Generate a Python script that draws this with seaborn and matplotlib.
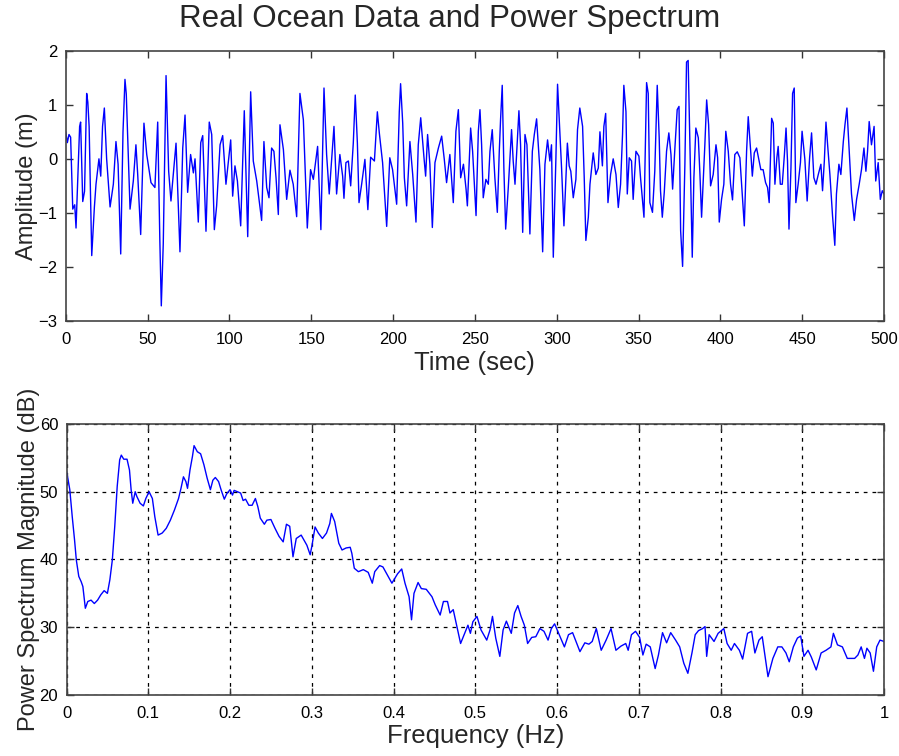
import numpy as np
import pandas as pd
import matplotlib
matplotlib.use("Agg")
import matplotlib.pyplot as plt
from matplotlib import font_manager
import seaborn as sns

# ---- Top panel: ocean wave record (time in s, amplitude in m) ----
time_s = [0, 1, 2, 3, 4.3, 5.5, 6.3, 7.7, 8.5, 9.1, 10.4, 11.5, 12.8, 13.5, 14.3, 15.9, 17.5, 18.5,
          20.3, 21.4, 22.5, 23.6, 25, 27.1, 29.1, 30.7, 32, 33.6, 35, 36.2, 37, 38, 39.3, 41.3, 42.9,
          44, 45.8, 47.8, 49.5, 52.1, 54.5, 56.2, 57.5, 58.4, 59.6, 61.3, 62.9, 64.3, 65.7, 67.4, 69.8,
          71.5, 72.9, 74.5, 76.3, 78.0, 79.0, 81.0, 82.5, 83.7,
          85.7, 87.7, 89.2, 90.8, 92.2, 94.3, 95.9, 97.9, 100.8, 102.0, 103.4, 104.9, 106.9, 109.1,
          111.2, 113.0, 114.6, 116.7, 119.7, 121.1, 122.8, 124.2, 125.8, 127.2, 128.5, 129.9, 130.9,
          133.0, 135.0, 137.0, 139.0, 141.1, 143.1, 145.2, 147.6, 149.6, 151.3, 153.9, 155.9, 157.8,
          159.4, 161.0, 163.9, 165.5, 167.5,
          169.2, 170.0, 171.2, 172.7, 174.1, 175.7, 176.9, 178.2, 179.2, 180.8, 182.8, 184.6, 186.3,
          188.6, 190.4, 191.6, 193.6, 196.1, 198.0, 199.7, 202.2, 203.8, 204.6, 205.9, 206.9, 208.3,
          210.3, 212.0, 214.0, 215.4, 216.9, 218.9, 219.9, 221.1, 222.5, 224.0, 225.6, 227.7, 229.7,
          231.3, 232.7, 234.7, 236.8, 238.4, 239.9, 241.3, 243.0, 244.6, 245.4, 247.4, 248.6, 250.7,
          252.1, 253.1,
          254.1, 255.1, 256.7, 258.2, 259.2, 260.6, 262.2, 263.7, 264.9, 265.7, 266.7, 267.7, 268.8,
          270.4, 272.4, 273.4, 274.5, 275.9, 276.9, 277.9, 279.2, 280.6, 281.8, 283.6, 285.1, 286.3,
          287.7, 289.7, 291.4, 292.8, 294.4, 295.8, 296.8, 297.9, 299.5, 300.5, 301.9, 303.0, 304.4,
          306.5, 307.6, 308.6, 310.1, 311.7, 312.7, 314.1, 315.8, 316.8, 317.8, 319.3, 320.3, 322.3,
          323.9, 325.4, 326.4, 327.9, 328.8, 329.9, 331.3, 332.9, 334.5, 336.2, 337.6, 339.0, 340.2,
          341.0,
          342.3, 343.1, 344.3, 345.7, 346.7, 348.4, 350.2, 351.2, 353.3, 354.9, 355.9, 356.9, 358.5,
          359.9, 361.4, 362.6, 363.4, 364.5, 365.7, 367.1, 368.5, 369.8, 370.8, 372.2, 373.6, 374.7,
          375.7, 376.9, 378.3, 379.3, 380.3, 381.4, 382.8, 383.8, 385.0, 386.5, 387.5, 388.5, 390.5,
          391.6, 392.8, 394.0, 395.6, 397.3, 398.3, 399.3, 400.7, 402.1, 403.3, 404.8, 406.2, 407.4,
          408.8, 410.3, 411.9, 413.1, 414.6, 416.0, 417.0, 418.5, 419.5, 420.7, 422.1,
          424.7, 426.1, 427.6, 428.8, 429.8, 431.3, 432.3, 433.3, 434.5, 435.3, 436.6, 437.8, 439.1,
          440.1, 441.0, 441.9, 443.1, 444.1, 445.1, 446.1, 447.5, 448.9, 449.9, 451.6, 453.0, 454.5,
          455.7, 457.1, 458.4, 459.8, 461.4, 462.4, 463.5, 464.5, 465.5, 466.9, 468.5, 469.9, 470.9,
          472.4, 473.6, 475.1, 476.1, 477.3, 478.5, 480.1, 481.8, 483.2, 484.8, 486.2, 487.7, 488.9,
          489.9, 490.9, 492.3, 493.9, 494.9, 496.4, 497.7, 498.9, 500]
amplitude_m = [0.5, 0.3, 0.45, 0.4, -0.93, -0.85, -1.28, -0.10, 0.6, 0.68, -0.79, -0.6, 1.21, 1.05, 0.6,
               -1.79, -0.9, -0.47, 0.0, -0.32, 0.6, 0.94, 0.0, -0.89, -0.47, 0.32, -0.1, -1.76, 0.5,
               1.47, 1.2, 0.3, -0.93, -0.41, 0.26, -0.3, -1.40, 0.66, 0.08, -0.44, -0.53, 0.68, -1.5,
               -2.72, -1.57, 1.54, -0.23, -0.78, -0.29, 0.29, -1.72, 0.2, 0.81, -0.62, 0.08, -0.26,
               0.0, -1.17, 0.3, 0.43,
               -1.34, 0.68, 0.45, -1.31, -0.87, 0.26, 0.43, -0.47, 0.35, -0.69, -0.13, -0.41, -1.24,
               0.89, -1.44, 1.24, -0.04, -0.41, -1.14, 0.32, -0.53, -0.72, 0.20, 0.14, -0.35, -1.03,
               0.63, 0.17, -0.75, -0.21, -0.47, -1.07, 1.21, 0.72, -1.28, -0.20, -0.38, 0.23, -1.31,
               1.31, 0.08, -0.65, 0.60, -0.65, 0.08,
               -0.32, -0.73, -0.07, -0.04, -0.50, 0.29, 1.18, 0.29, -0.81, -0.47, -0.01, -0.94, 0.03,
               -0.04, 0.87, 0.48, -0.07, -1.25, 0.02, -0.20, -0.84, 0.87, 1.39, 0.66, -0.35, -0.87,
               0.32, -0.29, -1.17, 0.26, 0.76, 0.02, -0.32, 0.45, -0.10, -1.27, -0.07, 0.20, 0.42,
               -0.01, -0.44, 0.08, -0.81, 0.51, 0.91, -0.35, -0.10, -0.56, -0.87, 0.57, 0.14, -1.05,
               0.51, 0.91,
               0.26, -0.72, -0.38, -0.47, 0.14, 0.54, -0.35, -0.99, 0.14, 0.74, 1.36, -0.17, -1.30,
               -0.53, 0.54, -0.04, -0.47, 0.32, 0.89, 0.26, -1.36, 0.45, 0.26, -1.39, 0.14, 0.45,
               0.74, -0.20, -1.72, -0.10, 0.35, -0.04, 0.26, -1.82, 0.02, 1.38, 0.51, -0.20, -1.24,
               0.29, -0.13, -0.23, -0.72, -0.38, 0.54, 0.94, 0.60, -0.35, -1.51, -1.08, -0.47, 0.11,
               -0.29, -0.17, 0.50, -0.13, 0.60, 0.84, -0.81, -0.29, 0.0, -0.29, -0.90, -0.47, 0.45,
               1.36,
               0.87, -0.65, 0.02, -0.04, -0.75, 0.14, 0.05, -0.35, -1.08, 1.41, 1.21, -0.81, -0.99,
               -0.23, 1.36, 0.39, -0.59, -1.08, -0.62, 0.14, 0.48, 0.08, -0.56, 0.20, 0.91, 0.97,
               -1.33, -1.99, -0.10, 1.79, 1.82, 0.26, -1.82, -0.35, 0.57, 0.39, -0.29, -1.08, 0.26,
               1.09, 0.63, -0.50, -0.29, 0.26, 0.02, -1.17, -0.75, -0.47, 0.51, 0.14, -0.47, -0.76,
               0.08, 0.13, 0.02, -0.53, -1.24, 0.14, 0.78, 0.14, -0.32, 0.11, 0.20,
               -0.20, -0.20, -0.44, -0.53, -0.81, 0.75, 0.66, -0.47, 0.02, 0.23, -0.47, -0.47, 0.08,
               0.57, -0.04, -1.30, -0.17, 1.21, 1.31, -0.81, -0.47, -0.07, 0.51, -0.01, -0.78, 0.02,
               0.48, -0.35, -0.47, -0.29, -0.10, -0.59, -0.04, 0.68, 0.26, -0.29, -1.05, -1.60, -0.65,
               -0.10, -0.29, 0.32, 0.63, 0.94, 0.26, -0.65, -1.14, -0.75, -0.47, -0.20, 0.20, -0.23,
               0.14, 0.69, 0.26, 0.60, -0.41, -0.07, -0.75, -0.59, -0.65]

# ---- Bottom panel: power spectrum (Hz, dB) ----
freq_hz = [0.0, 0.0016, 0.004, 0.007, 0.0098, 0.012, 0.015, 0.018, 0.020, 0.023, 0.026, 0.030, 0.034,
           0.038, 0.042, 0.046, 0.050, 0.053, 0.056, 0.059, 0.062, 0.065, 0.067, 0.070, 0.074, 0.077,
           0.079, 0.081, 0.084, 0.086, 0.090, 0.094, 0.097, 0.101, 0.105, 0.108, 0.112, 0.117, 0.122,
           0.127, 0.132, 0.137, 0.140, 0.143, 0.146, 0.148, 0.151, 0.154, 0.156, 0.160, 0.164, 0.168,
           0.172, 0.176, 0.179, 0.182, 0.186, 0.189, 0.193, 0.196, 0.200, 0.203, 0.205, 0.209, 0.213,
           0.216, 0.219, 0.223, 0.227, 0.231, 0.234, 0.237, 0.242, 0.245,
           0.250, 0.255, 0.260, 0.265, 0.269, 0.273, 0.277, 0.281, 0.287, 0.294, 0.298, 0.300, 0.304,
           0.308, 0.313, 0.318, 0.322, 0.324, 0.328, 0.333, 0.337, 0.342, 0.347, 0.349, 0.352, 0.357,
           0.363, 0.369, 0.374, 0.377, 0.383, 0.387, 0.393, 0.398, 0.405, 0.410, 0.414, 0.419, 0.422,
           0.425, 0.430, 0.434, 0.440, 0.447, 0.451, 0.457, 0.461, 0.466, 0.469, 0.473, 0.478, 0.482,
           0.487, 0.491, 0.494,
           0.497, 0.502, 0.507, 0.514, 0.518, 0.521, 0.525, 0.530, 0.534, 0.538, 0.544, 0.548, 0.552,
           0.556, 0.560, 0.564, 0.569, 0.574, 0.579, 0.584, 0.589, 0.593, 0.597, 0.602, 0.609, 0.614,
           0.619, 0.628, 0.634, 0.639, 0.643, 0.648, 0.654, 0.660, 0.666, 0.672, 0.678, 0.684, 0.687,
           0.691, 0.696, 0.701, 0.705, 0.709, 0.714, 0.720, 0.724, 0.729, 0.734, 0.739, 0.745,
           0.750, 0.755, 0.760, 0.765, 0.769, 0.773, 0.778, 0.781, 0.783, 0.786, 0.792, 0.797, 0.804,
           0.808, 0.813, 0.817, 0.823, 0.827, 0.833, 0.838, 0.842, 0.847, 0.851, 0.858, 0.864, 0.870,
           0.875, 0.880, 0.884, 0.889, 0.894, 0.898, 0.902, 0.907, 0.911, 0.917, 0.923, 0.929, 0.935,
           0.938, 0.943, 0.949, 0.955, 0.964, 0.968, 0.972, 0.976, 0.979, 0.983, 0.987, 0.991, 0.995,
           1.0]
power_db = [53.0, 52.0, 50.3, 46.3, 42.9, 39.9, 37.5, 36.7, 36.0, 32.8, 33.8, 34.0, 33.5, 34.0, 34.8,
            35.4, 35.0, 37.0, 39.9, 44.9, 50.8, 54.7, 55.4, 54.8, 54.8, 53.2, 50.3, 48.3, 50.0, 49.3,
            48.3, 47.9, 49.0, 50.0, 49.0, 46.3, 43.6, 43.9, 44.6, 45.8, 47.3, 49.0, 50.5, 52.2, 51.5,
            50.5, 53.2, 55.2, 56.8, 55.9, 55.6, 54.0, 52.0, 50.3, 51.7, 52.1, 51.5, 50.3, 48.9, 49.7,
            50.3, 49.5, 50.2, 50.0, 49.8, 48.7, 48.9, 48.0, 48.0, 49.0, 47.8, 46.1, 45.2, 45.8,
            45.9, 44.6, 43.4, 42.6, 45.2, 44.9, 40.4, 43.1, 43.6, 42.1, 40.7, 41.9, 44.8, 43.9, 43.1,
            43.9, 45.3, 46.8, 45.6, 42.4, 41.4, 41.7, 41.8, 40.9, 38.7, 38.2, 38.5, 38.1, 36.5, 38.2,
            39.1, 38.9, 37.6, 36.5, 37.9, 38.6, 36.5, 34.5, 31.1, 35.0, 36.6, 35.7, 35.6, 34.5, 33.3,
            31.8, 33.8, 33.8, 32.1, 32.6, 29.8, 27.6, 29.1, 30.3, 29.1,
            30.8, 31.6, 29.6, 28.1, 29.6, 31.6, 28.4, 25.7, 29.6, 30.9, 29.1, 32.1, 33.2, 31.6, 30.3,
            27.6, 28.5, 28.6, 29.8, 29.4, 28.1, 29.8, 30.5, 29.1, 27.1, 28.9, 29.2, 26.4, 27.7, 27.5,
            27.9, 29.8, 26.6, 28.1, 29.8, 26.6, 27.2, 27.6, 26.6, 28.9, 29.4, 28.5, 25.9, 27.5, 27.1,
            23.9, 25.9, 29.2, 27.7, 29.2, 28.1,
            27.1, 24.7, 23.2, 26.2, 28.9, 29.5, 29.8, 30.1, 25.7, 28.9, 27.9, 29.1, 29.8, 27.6, 26.6,
            27.6, 26.6, 25.3, 29.1, 29.4, 26.2, 28.1, 28.6, 22.7, 25.4, 27.1, 27.1, 26.2, 24.9, 27.1,
            28.4, 28.7, 25.7, 26.6, 25.6, 23.7, 26.2, 26.6, 27.1, 29.1, 27.4, 27.1, 25.4, 25.4, 25.9,
            27.1, 25.4, 26.9, 26.2, 23.5, 27.1, 28.1, 27.9]

time_ticks = list(range(0, 501, 50))
amp_ticks = [-3, -2, -1, 0, 1, 2]
freq_ticks = [0, 0.1, 0.2, 0.3, 0.4, 0.5, 0.6, 0.7, 0.8, 0.9, 1.0]
freq_labels = ["0", "0.1", "0.2", "0.3", "0.4", "0.5", "0.6", "0.7", "0.8", "0.9", "1"]
db_ticks = [20, 30, 40, 50, 60]

sns.set_theme(style="white")
plt.rcParams["font.family"] = ["Liberation Sans", "DejaVu Sans"]

installed = {f.name for f in font_manager.fontManager.ttflist}
tick_family = ["Liberation Sans Narrow", "Liberation Sans"] if "Liberation Sans Narrow" in installed \
    else ["Liberation Sans"]
tick_size = 13.5 if "Liberation Sans Narrow" in installed else 12

df_t = pd.DataFrame({"t": time_s, "a": amplitude_m})
df_f = pd.DataFrame({"f": freq_hz, "p": power_db})

fig = plt.figure(figsize=(8.99, 7.56), dpi=100)
ax1 = fig.add_axes([0.0731, 0.5754, 0.9103, 0.3575])
ax2 = fig.add_axes([0.0740, 0.0807, 0.9094, 0.3585])

sns.lineplot(data=df_t, x="t", y="a", ax=ax1, color="#0000ff", linewidth=1.0,
             estimator=None, sort=False)
sns.lineplot(data=df_f, x="f", y="p", ax=ax2, color="#0000ff", linewidth=1.0,
             estimator=None, sort=False)

ax1.set_xlim(0, 500)
ax1.set_ylim(-3, 2)
ax1.set_xticks(time_ticks)
ax1.set_yticks(amp_ticks)
ax1.set_xlabel("Time (sec)", fontsize=18.5, labelpad=3)
ax1.set_ylabel("Amplitude (m)", fontsize=17, labelpad=0)

ax2.set_xlim(0, 1)
ax2.set_ylim(20, 60)
ax2.set_xticks(freq_ticks)
ax2.set_xticklabels(freq_labels)
ax2.set_yticks(db_ticks)
ax2.set_xlabel("Frequency (Hz)", fontsize=18.5, labelpad=2)
ax2.set_ylabel("Power Spectrum Magnitude (dB)", fontsize=17, labelpad=0)
ax2.grid(True, color="black", linestyle=(0, (3, 4)), linewidth=0.9)

for ax in (ax1, ax2):
    ax.tick_params(direction="in", length=5, width=1, colors="#333333", labelcolor="black",
                   top=True, right=True, bottom=True, left=True)
    ax.tick_params(axis="x", pad=8)
    ax.tick_params(axis="y", pad=6)
    for lab in ax.get_xticklabels() + ax.get_yticklabels():
        lab.set_family(tick_family)
        lab.set_fontsize(tick_size)
    for s in ax.spines.values():
        s.set_color("#444444")
        s.set_linewidth(1.2)
        s.set_visible(True)

fig.text(0.5, 0.975, "Real Ocean Data and Power Spectrum", ha="center", va="center", fontsize=22.5)

fig.savefig("out.png", dpi=100, facecolor="white")
